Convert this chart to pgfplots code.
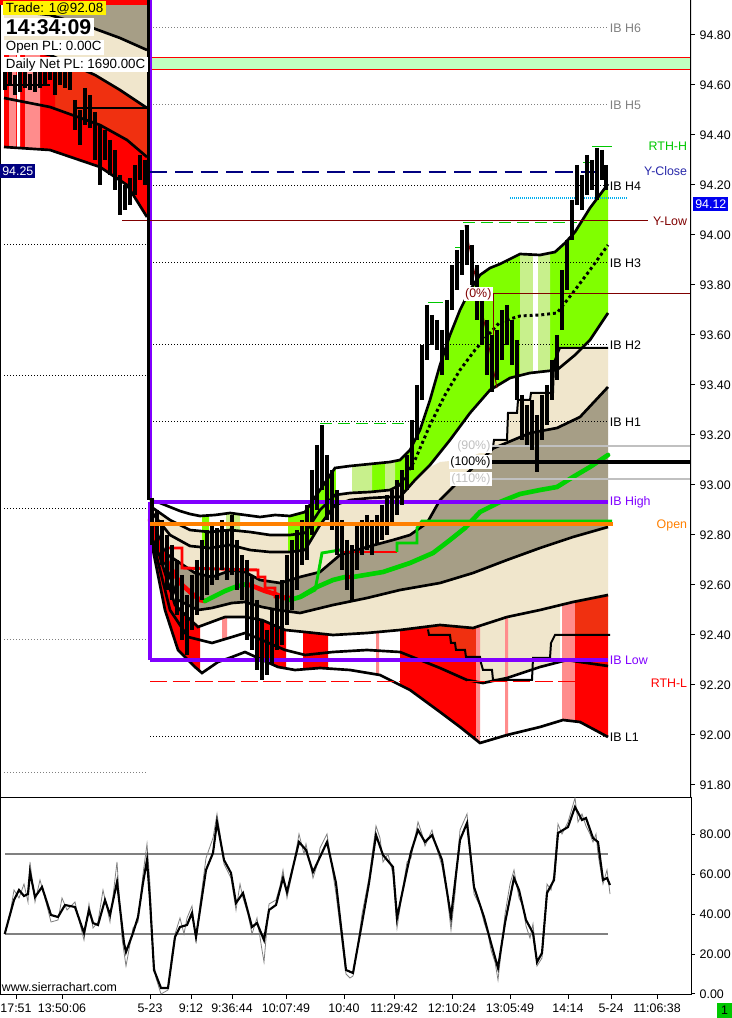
\documentclass[border=0pt]{standalone}
\usepackage{fontspec}
\setmainfont{Liberation Sans}
\usepackage{pgfplots}
\usepackage{pgfplotstable}
\pgfplotsset{compat=1.18}
\usepgfplotslibrary{fillbetween}

\definecolor{cTan}{RGB}{166,158,134}
\definecolor{cBeige}{RGB}{240,230,204}
\definecolor{cLime}{RGB}{128,255,0}
\definecolor{cLtLime}{RGB}{200,240,140}
\definecolor{cOrRed}{RGB}{240,48,16}
\definecolor{cRed}{RGB}{255,0,0}
\definecolor{cPink}{RGB}{255,140,140}
\definecolor{cPurple}{RGB}{128,0,255}
\definecolor{cOrange}{RGB}{255,128,0}
\definecolor{cMaGreen}{RGB}{0,210,0}
\definecolor{cNavy}{RGB}{0,0,128}
\definecolor{cDkRed}{RGB}{128,0,0}
\definecolor{cPale}{RGB}{192,255,192}
\definecolor{cRthG}{RGB}{0,200,0}
\definecolor{cBlue}{RGB}{0,0,240}
\definecolor{cYClose}{RGB}{40,40,170}
\definecolor{cGrayT}{RGB}{128,128,128}
\definecolor{cLtGray}{RGB}{192,192,192}

\newcommand{\lbl}{\fontsize{9.3}{11}\selectfont}
\tikzset{
  idot/.style={line width=0.75pt, dash pattern=on 0.75pt off 1.5pt},
  bandl/.style={black, line width=2pt},
  stepl/.style={black, line width=1.5pt},
}

% previous session bands
\pgfplotstableread{
x y
4 94.94
147 94.94
}\tLT
\pgfplotstableread{
x y
4 94.90
50 94.88
90 94.832
120 94.788
147 94.74
}\tLA
\pgfplotstableread{
x y
4 94.76
50 94.72
95 94.64
120 94.58
147 94.508
}\tLB
\pgfplotstableread{
x y
4 94.548
50 94.512
100 94.44
127 94.38
147 94.312
}\tLC
\pgfplotstableread{
x y
4 94.352
50 94.34
100 94.272
127 94.20
147 94.072
}\tLD

% current session bands
\pgfplotstableread{
x y
150 92.94
160 92.928
170 92.912
180 92.896
190 92.884
200 92.876
215 92.88
230 92.888
245 92.88
260 92.872
275 92.88
290 92.876
305 92.892
320 92.98
335 93.068
350 93.076
370 93.084
390 93.092
400 93.10
410 93.14
420 93.22
430 93.34
440 93.48
450 93.60
460 93.70
470 93.78
480 93.84
490 93.868
500 93.884
520 93.924
540 93.92
555 93.932
565 93.968
575 94.012
590 94.108
608 94.204
}\tTthree
\pgfplotstableread{
x y
150 92.916
170 92.86
190 92.82
210 92.812
230 92.82
250 92.812
270 92.80
290 92.80
305 92.808
320 92.90
335 92.96
350 92.968
370 92.972
390 92.98
400 93.00
415 93.10
430 93.24
445 93.36
460 93.46
475 93.54
490 93.608
500 93.652
520 93.676
540 93.68
557 93.688
575 93.78
590 93.86
608 93.96
}\tTtwo
\pgfplotstableread{
x y
150 92.90
170 92.80
190 92.756
210 92.748
230 92.76
250 92.74
270 92.732
290 92.732
305 92.74
320 92.84
335 92.92
350 92.94
370 92.948
390 92.952
400 92.952
415 93.02
430 93.08
450 93.18
470 93.288
490 93.38
510 93.428
530 93.448
557 93.46
575 93.52
590 93.58
608 93.688
}\tTone
\pgfplotstableread{
x y
150 92.90
170 92.80
190 92.756
210 92.748
230 92.76
250 92.74
270 92.732
290 92.732
305 92.74
320 92.84
335 92.92
350 92.94
370 92.948
390 92.952
400 92.952
415 93.02
425 93.06
440 93.092
460 93.10
475 93.12
493 93.152
494 93.18
507 93.18
508 93.288
517 93.288
518 93.34
530 93.34
531 93.368
553 93.368
554 93.492
560 93.548
608 93.548
}\tS
\pgfplotstableread{
x y
150 92.88
165 92.728
180 92.688
195 92.648
212 92.632
232 92.66
245 92.652
260 92.62
280 92.608
300 92.632
320 92.652
340 92.72
367 92.752
393 92.78
410 92.80
427 92.848
440 92.94
460 93.02
493 93.146
530 93.208
557 93.228
580 93.272
608 93.392
}\tMone
\pgfplotstableread{
x y
150 92.86
178 92.54
198 92.50
212 92.508
232 92.528
245 92.532
262 92.512
278 92.50
300 92.488
333 92.52
367 92.548
400 92.58
440 92.608
473 92.648
507 92.70
540 92.748
573 92.792
608 92.832
}\tMzero
\pgfplotstableread{
x y
150 92.84
175 92.52
198 92.432
225 92.472
245 92.472
262 92.46
285 92.42
305 92.412
333 92.40
367 92.408
400 92.42
440 92.44
473 92.428
507 92.472
540 92.50
573 92.532
608 92.56
}\tBone
\pgfplotstableread{
x y
150 92.82
170 92.50
188 92.392
212 92.368
232 92.392
245 92.408
262 92.38
285 92.34
305 92.32
333 92.332
367 92.34
400 92.332
440 92.268
467 92.22
483 92.208
507 92.228
540 92.272
567 92.30
580 92.292
608 92.276
}\tBtwo
\pgfplotstableread{
x y
150 92.80
165 92.50
178 92.34
195 92.272
202 92.248
218 92.292
232 92.312
245 92.332
258 92.308
278 92.272
295 92.26
320 92.268
350 92.26
380 92.24
410 92.18
440 92.092
460 92.032
480 91.968
507 92.00
540 92.032
563 92.06
580 92.052
608 91.992
}\tBthree
\pgfplotstableread{
x y
400 92.422
428 92.422
429 92.40
450 92.40
451 92.368
455 92.368
456 92.34
465 92.34
466 92.312
480 92.312
481 92.288
483 92.26
492 92.26
493 92.22
532 92.22
533 92.308
550 92.308
551 92.368
555 92.40
610 92.40
}\tStwo

\begin{document}
\begin{tikzpicture}

\begin{axis}[
  at={(0pt,165.75pt)}, anchor=south west,
  width=518.25pt, height=597.75pt, scale only axis,
  xmin=0, xmax=691, ymin=91.752, ymax=94.94,
  axis background/.style={fill=white},
  axis line style={draw=none},
  xtick=\empty,
  ytick={91.8,92,92.2,92.4,92.6,92.8,93,93.2,93.4,93.6,93.8,94,94.2,94.4,94.6,94.8},
  ytick pos=right, yticklabel pos=right,
  yticklabel style={font=\lbl, /pgf/number format/.cd, fixed, fixed zerofill, precision=2, assume math mode=true},
  tick align=outside, major tick length=3pt,
  tick style={black, line width=0.75pt},
  unbounded coords=jump,
]
% named paths
\addplot[draw=none, name path=LT] table {\tLT};
\addplot[draw=none, name path=LA] table {\tLA};
\addplot[draw=none, name path=LB] table {\tLB};
\addplot[draw=none, name path=LC] table {\tLC};
\addplot[draw=none, name path=LD] table {\tLD};
\addplot[draw=none, name path=T3] table {\tTthree};
\addplot[draw=none, name path=T2] table {\tTtwo};
\addplot[draw=none, name path=T1] table {\tTone};
\addplot[draw=none, name path=S] table {\tS};
\addplot[draw=none, name path=M1] table {\tMone};
\addplot[draw=none, name path=M0] table {\tMzero};
\addplot[draw=none, name path=B1] table {\tBone};
\addplot[draw=none, name path=B2] table {\tBtwo};
\addplot[draw=none, name path=B3] table {\tBthree};
\addplot[draw=none, name path=S2] table {\tStwo};

% previous session fills
\addplot[fill=cTan, draw=none] fill between[of=LT and LA];
\addplot[fill=cBeige, draw=none] fill between[of=LA and LB];
\addplot[fill=cOrRed, draw=none] fill between[of=LB and LC, soft clip={domain=55:147}];
\addplot[fill=cRed, draw=none] fill between[of=LB and LC, soft clip={domain=4:55}];
\addplot[fill=cRed, draw=none] fill between[of=LC and LD];
\addplot[fill=cPink, draw=none] fill between[of=LB and LD, soft clip={domain=9:16}];
\addplot[fill=white, draw=none] fill between[of=LB and LD, soft clip={domain=17:20}];
\addplot[fill=cPink, draw=none] fill between[of=LB and LD, soft clip={domain=25:40}];

% current session fills
\addplot[fill=cBeige, draw=none] fill between[of=T2 and T1, soft clip={domain=150:288}];
\addplot[fill=cLime, draw=none] fill between[of=T3 and T1, soft clip={domain=202:209}];
\addplot[fill=cLtLime, draw=none] fill between[of=T3 and T2, soft clip={domain=226:240}];
\addplot[fill=cLime, draw=none] fill between[of=T3 and T1, soft clip={domain=288:335}];
\addplot[fill=cLime, draw=none] fill between[of=T3 and T2, soft clip={domain=335:400}];
\addplot[fill=cBeige, draw=none] fill between[of=T2 and T1, soft clip={domain=335:400}];
\addplot[fill=white, draw=none] fill between[of=T3 and T2, soft clip={domain=336:352}];
\addplot[fill=cLtLime, draw=none] fill between[of=T3 and T2, soft clip={domain=352:372}];
\addplot[fill=cLtLime, draw=none] fill between[of=T3 and T2, soft clip={domain=385:395}];
\addplot[fill=cLime, draw=none] fill between[of=T3 and T1, soft clip={domain=400:608}];
\addplot[fill=cLtLime, draw=none] fill between[of=T3 and T1, soft clip={domain=520:533}];
\addplot[fill=white, draw=none] fill between[of=T3 and T1, soft clip={domain=533:538}];
\addplot[fill=cLtLime, draw=none] fill between[of=T3 and T1, soft clip={domain=538:550}];
\addplot[fill=cBeige, draw=none] fill between[of=S and M1];
\addplot[fill=cTan, draw=none] fill between[of=M1 and M0];
\addplot[fill=cBeige, draw=none] fill between[of=M0 and B1];
\addplot[fill=cBeige, draw=none] fill between[of=B1 and B2, soft clip={domain=480:560}];
\addplot[fill=cRed, draw=none] fill between[of=B1 and B3, soft clip={domain=150:200}];
\addplot[fill=cRed, draw=none] fill between[of=B1 and B3, soft clip={domain=256:286}];
\addplot[fill=cRed, draw=none] fill between[of=B1 and B3, soft clip={domain=303:328}];
\addplot[fill=cPink, draw=none] fill between[of=B1 and B2, soft clip={domain=222:227}];
\addplot[fill=cPink, draw=none] fill between[of=B1 and B3, soft clip={domain=376:379}];
\addplot[fill=cRed, draw=none] fill between[of=B1 and B3, soft clip={domain=400:428}];
\addplot[fill=cOrRed, draw=none] fill between[of=B1 and S2, soft clip={domain=428:476}];
\addplot[fill=cRed, draw=none] fill between[of=S2 and B3, soft clip={domain=428:476}];
\addplot[fill=cPink, draw=none] fill between[of=B1 and B3, soft clip={domain=476:480}];
\addplot[fill=cPink, draw=none] fill between[of=B1 and B3, soft clip={domain=505:508}];
\addplot[fill=cPink, draw=none] fill between[of=B1 and B3, soft clip={domain=562:575}];
\addplot[fill=cOrRed, draw=none] fill between[of=B1 and S2, soft clip={domain=575:608}];
\addplot[fill=cRed, draw=none] fill between[of=S2 and B3, soft clip={domain=575:608}];

% pale green zone with red edges
\addplot[fill=cPale, draw=none] coordinates {(150,94.66) (690,94.66) (690,94.708) (150,94.708)};
\addplot[cRed, line width=0.75pt] coordinates {(150,94.708) (690,94.708)};
\addplot[cRed, line width=0.75pt] coordinates {(150,94.66) (690,94.66)};

% dotted reference levels
\addplot[idot, cGrayT] coordinates {(150,94.828) (608,94.828)};
\addplot[idot, cGrayT] coordinates {(150,94.52) (608,94.52)};
\addplot[idot, black] coordinates {(150,94.196) (608,94.196)};
\addplot[idot, black] coordinates {(150,93.888) (608,93.888)};
\addplot[idot, black] coordinates {(150,93.56) (608,93.56)};
\addplot[idot, black] coordinates {(150,93.252) (608,93.252)};
\addplot[idot, black] coordinates {(150,91.992) (608,91.992)};
\addplot[idot, black] coordinates {(4,93.96) (148,93.96)};
\addplot[idot, black] coordinates {(4,93.436) (148,93.436)};
\addplot[idot, black] coordinates {(4,92.904) (148,92.904)};
\addplot[idot, cGrayT] coordinates {(4,92.38) (148,92.38)};
\addplot[idot, cGrayT] coordinates {(4,91.848) (148,91.848)};

% band curves
\addplot[bandl] table {\tLA};
\addplot[bandl] table {\tLB};
\addplot[bandl] table {\tLC};
\addplot[bandl] table {\tLD};
\addplot[stepl] coordinates {(75,94.508) (147,94.508)};
\addplot[stepl] coordinates {(4,94.60) (50,94.60)};
\addplot[bandl] table {\tTthree};
\addplot[bandl] coordinates {(150,92.916) (170,92.86) (190,92.82) (210,92.812) (230,92.82) (250,92.812) (270,92.80) (290,92.80) (305,92.808) (320,92.90) (335,92.96) (350,92.968) (370,92.972) (390,92.98) (400,93.00)};
\addplot[black, line width=2.2pt, dash pattern=on 2.2pt off 2.2pt] coordinates {(400,93.00) (415,93.10) (430,93.24) (445,93.36) (460,93.46) (475,93.54) (490,93.608) (500,93.652) (520,93.676) (540,93.68) (557,93.688) (575,93.78) (590,93.86) (608,93.96)};
\addplot[bandl] table {\tTone};
\addplot[bandl] table {\tMone};
\addplot[bandl] table {\tMzero};
\addplot[bandl] table {\tBone};
\addplot[bandl] table {\tBtwo};
\addplot[bandl] table {\tBthree};
\addplot[stepl] coordinates {(493,93.152) (494,93.18) (507,93.18) (508,93.288) (517,93.288) (518,93.34) (530,93.34) (531,93.368) (553,93.368) (554,93.492) (560,93.548) (608,93.548)};
\addplot[stepl] coordinates {(428,92.422) (429,92.40) (450,92.40) (451,92.368) (455,92.368) (456,92.34) (465,92.34) (466,92.312) (480,92.312) (481,92.288) (483,92.26) (492,92.26) (493,92.22) (532,92.22) (533,92.308) (550,92.308) (551,92.368) (555,92.40) (610,92.40)};

% moving average and step lines
\addplot[cRed, line width=2.2pt] coordinates {(165,92.748) (182,92.748) (182,92.668) (258,92.66) (258,92.632) (265,92.632) (265,92.588) (275,92.588) (275,92.552) (290,92.552)};
\addplot[cMaGreen, line width=2.2pt] coordinates {(300,92.548) (315,92.58) (318,92.64) (322,92.728) (340,92.74)};
\addplot[cRed, line width=2.2pt] coordinates {(340,92.732) (397,92.732)};
\addplot[cMaGreen, line width=2.2pt] coordinates {(397,92.732) (397,92.768) (417,92.768) (417,92.828) (422,92.856) (612,92.856)};
\addplot[cRed, line width=3.5pt, line cap=round] coordinates {(150,92.86) (155,92.80) (160,92.748) (165,92.708) (172,92.66) (180,92.608) (190,92.572) (200,92.54) (205,92.536)};
\addplot[cMaGreen, line width=3.5pt, line cap=round] coordinates {(205,92.536) (215,92.556) (225,92.576) (235,92.592) (247,92.604)};
\addplot[cRed, line width=3.5pt, line cap=round] coordinates {(247,92.604) (255,92.592) (265,92.576) (275,92.564) (290,92.54)};
\addplot[cMaGreen, line width=3.5pt, line cap=round] coordinates {(290,92.54) (300,92.552) (317,92.592) (333,92.62) (345,92.632)};
\addplot[cRed, line width=3.5pt] coordinates {(345,92.632) (353,92.632)};
\addplot[cMaGreen, line width=3.5pt, line cap=round] coordinates {(353,92.632) (383,92.652) (410,92.688) (433,92.728) (450,92.78) (465,92.828) (480,92.892) (500,92.932) (520,92.964) (540,92.98) (557,92.992) (573,93.032) (590,93.072) (608,93.12)};

% initial balance box
\addplot[cPurple, line width=1.5pt] coordinates {(151,94.94) (151,92.30)};
\addplot[cPurple, line width=3.5pt] coordinates {(150,92.932) (150,92.30)};
\addplot[cPurple, line width=3.5pt] coordinates {(150,92.932) (608,92.932)};
\addplot[cPurple, line width=3.5pt] coordinates {(150,92.30) (608,92.30)};

% other levels
\addplot[cNavy, line width=0.9pt, dash pattern=on 13pt off 6pt] coordinates {(150,94.252) (608,94.252)};
\addplot[cDkRed, line width=0.75pt] coordinates {(122,94.056) (648,94.056)};
\addplot[cDkRed, line width=0.75pt] coordinates {(493,93.764) (690,93.764)};
\addplot[cDkRed, line width=0.75pt] coordinates {(493,93.764) (493,93.40)};
\addplot[cDkRed, line width=0.75pt] coordinates {(465,94.04) (480,93.74) (497,93.388)};
\addplot[cLtGray, line width=0.9pt] coordinates {(490,93.156) (690,93.156)};
\addplot[black, line width=3pt] coordinates {(490,93.092) (690,93.092)};
\addplot[cLtGray, line width=0.9pt] coordinates {(490,93.024) (690,93.024)};
\addplot[cyan, line width=1.5pt, dash pattern=on 1pt off 0.5pt] coordinates {(510,94.148) (628,94.148)};
\addplot[cRthG, line width=0.75pt, dash pattern=on 9pt off 4.5pt] coordinates {(463,94.048) (577,94.048)};
\addplot[cRthG, line width=0.75pt, dash pattern=on 9pt off 4.5pt] coordinates {(320,93.244) (405,93.244)};
\addplot[cRthG, line width=0.75pt] coordinates {(428,93.728) (443,93.728)};
\addplot[cRthG, line width=0.75pt] coordinates {(455,93.948) (463,93.948)};
\addplot[cRthG, line width=0.75pt] coordinates {(583,94.288) (592,94.288)};
\addplot[cRthG, line width=0.75pt] coordinates {(592,94.352) (612,94.352)};
\addplot[cRed, line width=0.75pt, dash pattern=on 13pt off 4pt] coordinates {(150,92.212) (608,92.212)};

% price bars
\addplot[black, line width=2.4pt] coordinates {
(5,94.68) (5,94.58) (5,nan) (10,94.66) (10,94.60) (10,nan) (15,94.64) (15,94.56) (15,nan)
(20,94.652) (20,94.572) (20,nan) (25,94.66) (25,94.588) (25,nan) (30,94.644) (30,94.58) (30,nan)
(35,94.66) (35,94.572) (35,nan) (40,94.668) (40,94.588) (40,nan) (45,94.676) (45,94.596) (45,nan)
(50,94.68) (50,94.62) (50,nan) (55,94.692) (55,94.56) (55,nan) (60,94.68) (60,94.60) (60,nan)
(65,94.668) (65,94.588) (65,nan) (70,94.66) (70,94.58) (70,nan) (75,94.54) (75,94.42) (75,nan)
(80,94.50) (80,94.36) (80,nan) (85,94.588) (85,94.44) (85,nan) (90,94.56) (90,94.428) (90,nan)
(95,94.492) (95,94.30) (95,nan) (100,94.44) (100,94.20) (100,nan) (105,94.42) (105,94.30) (105,nan)
(110,94.38) (110,94.24) (110,nan) (115,94.34) (115,94.18) (115,nan) (120,94.24) (120,94.08) (120,nan)
(125,94.20) (125,94.10) (125,nan) (130,94.228) (130,94.12) (130,nan) (135,94.28) (135,94.16) (135,nan)
(140,94.32) (140,94.22) (140,nan) (145,94.30) (145,94.20) (145,nan)
(152,92.948) (152,92.76) (152,nan) (157,92.90) (157,92.72) (157,nan) (162,92.86) (162,92.68) (162,nan)
(167,92.80) (167,92.58) (167,nan) (172,92.76) (172,92.54) (172,nan) (177,92.70) (177,92.48) (177,nan)
(182,92.64) (182,92.38) (182,nan) (187,92.56) (187,92.32) (187,nan) (192,92.64) (192,92.42) (192,nan)
(197,92.70) (197,92.48) (197,nan) (202,92.78) (202,92.54) (202,nan) (207,92.82) (207,92.56) (207,nan)
(212,92.84) (212,92.60) (212,nan) (217,92.828) (217,92.62) (217,nan) (222,92.86) (222,92.66) (222,nan)
(227,92.82) (227,92.62) (227,nan) (232,92.88) (232,92.64) (232,nan) (237,92.78) (237,92.58) (237,nan)
(242,92.72) (242,92.54) (242,nan) (247,92.70) (247,92.38) (247,nan) (252,92.64) (252,92.34) (252,nan)
(257,92.54) (257,92.26) (257,nan) (262,92.46) (262,92.22) (262,nan) (267,92.42) (267,92.24) (267,nan)
(272,92.50) (272,92.28) (272,nan) (277,92.56) (277,92.34) (277,nan) (282,92.62) (282,92.36) (282,nan)
(287,92.72) (287,92.44) (287,nan) (292,92.78) (292,92.50) (292,nan) (297,92.82) (297,92.58) (297,nan)
(302,92.86) (302,92.68) (302,nan) (307,92.92) (307,92.70) (307,nan) (312,93.06) (312,92.80) (312,nan)
(317,93.16) (317,92.90) (317,nan) (322,93.24) (322,92.98) (322,nan) (327,93.12) (327,92.86) (327,nan)
(332,93.06) (332,92.82) (332,nan) (337,92.98) (337,92.72) (337,nan) (342,92.86) (342,92.66) (342,nan)
(347,92.78) (347,92.58) (347,nan) (352,92.76) (352,92.54) (352,nan) (357,92.84) (357,92.66) (357,nan)
(362,92.86) (362,92.72) (362,nan) (367,92.88) (367,92.74) (367,nan) (372,92.86) (372,92.72) (372,nan)
(377,92.88) (377,92.76) (377,nan) (382,92.92) (382,92.78) (382,nan) (387,92.96) (387,92.80) (387,nan)
(392,92.98) (392,92.84) (392,nan) (397,93.02) (397,92.88) (397,nan) (402,93.06) (402,92.92) (402,nan)
(407,93.12) (407,92.98) (407,nan) (412,93.26) (412,93.06) (412,nan) (417,93.40) (417,93.18) (417,nan)
(422,93.56) (422,93.34) (422,nan) (427,93.72) (427,93.50) (427,nan) (432,93.68) (432,93.56) (432,nan)
(437,93.66) (437,93.54) (437,nan) (442,93.62) (442,93.44) (442,nan) (447,93.74) (447,93.50) (447,nan)
(452,93.88) (452,93.70) (452,nan) (457,93.94) (457,93.78) (457,nan) (462,94.02) (462,93.84) (462,nan)
(467,94.04) (467,93.88) (467,nan) (472,93.96) (472,93.80) (472,nan) (477,93.88) (477,93.66) (477,nan)
(482,93.78) (482,93.56) (482,nan) (487,93.66) (487,93.44) (487,nan) (492,93.60) (492,93.372) (492,nan)
(497,93.62) (497,93.42) (497,nan) (502,93.70) (502,93.50) (502,nan) (507,93.72) (507,93.56) (507,nan)
(512,93.66) (512,93.48) (512,nan) (517,93.58) (517,93.34) (517,nan) (522,93.36) (522,93.18) (522,nan)
(527,93.32) (527,93.16) (527,nan) (532,93.34) (532,93.14) (532,nan) (537,93.28) (537,93.052) (537,nan)
(542,93.36) (542,93.18) (542,nan) (547,93.40) (547,93.24) (547,nan) (552,93.50) (552,93.34) (552,nan)
(557,93.60) (557,93.42) (557,nan) (562,93.86) (562,93.62) (562,nan) (567,93.98) (567,93.78) (567,nan)
(572,94.14) (572,93.98) (572,nan) (577,94.28) (577,94.12) (577,nan) (582,94.24) (582,94.10) (582,nan)
(587,94.32) (587,94.16) (587,nan) (592,94.30) (592,94.18) (592,nan) (597,94.348) (597,94.14) (597,nan)
(602,94.34) (602,94.22) (602,nan) (606,94.28) (606,94.18)
};
\addplot[black, line width=2.6pt] coordinates {(148.5,94.94) (148.5,92.94)};

% open
\addplot[cOrange, line width=3pt] coordinates {(150,92.844) (613,92.844)};

% borders
\addplot[black, line width=1.5pt] coordinates {(0,91.752) (0,94.94)};
\addplot[black, line width=1.5pt] coordinates {(691,91.752) (691,94.94)};

% labels
\node[anchor=west, text=cGrayT, font=\lbl, inner sep=0.5pt] at (axis cs:609,94.828) {IB H6};
\node[anchor=west, text=cGrayT, font=\lbl, inner sep=0.5pt] at (axis cs:609,94.52) {IB H5};
\node[anchor=east, text=cRthG, font=\lbl, inner sep=0.5pt] at (axis cs:688,94.356) {RTH-H};
\node[anchor=east, text=cYClose, font=\lbl, inner sep=0.5pt] at (axis cs:688,94.256) {Y-Close};
\node[anchor=west, text=black, font=\lbl, inner sep=0.5pt] at (axis cs:609,94.196) {IB H4};
\node[anchor=east, text=cDkRed, font=\lbl, inner sep=0.5pt] at (axis cs:688,94.056) {Y-Low};
\node[anchor=west, text=black, font=\lbl, inner sep=0.5pt] at (axis cs:609,93.888) {IB H3};
\node[anchor=west, text=black, font=\lbl, inner sep=0.5pt] at (axis cs:609,93.56) {IB H2};
\node[anchor=west, text=black, font=\lbl, inner sep=0.5pt] at (axis cs:609,93.252) {IB H1};
\node[anchor=west, text=cPurple, font=\lbl, inner sep=0.5pt] at (axis cs:609,92.932) {IB High};
\node[anchor=east, text=cOrange, font=\lbl, inner sep=0.5pt] at (axis cs:688,92.84) {Open};
\node[anchor=west, text=cPurple, font=\lbl, inner sep=0.5pt] at (axis cs:609,92.30) {IB Low};
\node[anchor=east, text=cRed, font=\lbl, inner sep=0.5pt] at (axis cs:688,92.208) {RTH-L};
\node[anchor=west, text=black, font=\lbl, inner sep=0.5pt] at (axis cs:609,91.992) {IB L1};
\node[anchor=east, text=cDkRed, fill=white, font=\lbl, inner sep=1pt] at (axis cs:493,93.764) {(0\%)};
\node[anchor=east, text=cLtGray, fill=white, font=\lbl, inner sep=1pt] at (axis cs:492,93.156) {(90\%)};
\node[anchor=east, text=black, fill=white, font=\lbl, inner sep=1pt] at (axis cs:492,93.092) {(100\%)};
\node[anchor=east, text=cLtGray, fill=white, font=\lbl, inner sep=1pt] at (axis cs:492,93.024) {(110\%)};
\node[anchor=west, text=white, fill=cNavy, font=\lbl, inner xsep=1.5pt, inner ysep=2pt] at (axis cs:0,94.256) {94.25};
\end{axis}

\begin{axis}[
  at={(0pt,17.25pt)}, anchor=south west,
  width=518.25pt, height=148.5pt, scale only axis,
  xmin=0, xmax=691, ymin=-0.5, ymax=98.5,
  axis background/.style={fill=white},
  xtick={16,62,150,191,232,286,344,394,452,510,568,611,657},
  xticklabels={17:51,13:50:06,5-23,9:12,9:36:44,10:07:49,10:40,11:29:42,12:10:24,13:05:49,14:14,5-24,11:06:38},
  ytick={0,20,40,60,80},
  xtick pos=left, ytick pos=right, yticklabel pos=right,
  tick align=outside, major tick length=3pt,
  tick style={black, line width=0.75pt},
  axis line style={line width=0.75pt},
  ticklabel style={font=\lbl},
  yticklabel style={/pgf/number format/.cd, fixed, fixed zerofill, precision=2, assume math mode=true},
]
\addplot[cGrayT, line width=0.9pt] coordinates {(5,70) (608,70)};
\addplot[cGrayT, line width=0.9pt] coordinates {(5,30) (608,30)};
\addplot[cGrayT, line width=0.6pt] coordinates {
(4.7,30) (10,40) (14,52) (19,48) (24,55) (28,46) (30,66) (35,46) (40,57) (44,50) (51,36) (58,37)
(62,48) (67,42) (75,46) (80,35) (84,27) (89,45) (93,33) (98,36) (103,52) (110,36) (117,66) (122,28)
(126,14) (133,33) (138,36) (143,60) (147,75) (150,55) (153,20) (156,8) (161,0) (168,2) (172,20)
(175,30) (180,38) (184,30) (187,38) (192,44) (196,27) (200,45) (206,68) (213,78) (217,90) (220,80)
(224,65) (231,58) (236,42) (240,55) (243,48) (248,40) (252,30) (257,38) (262,22) (264,16) (269,45)
(276,47) (280,54) (283,62) (287,48) (292,60) (299,80) (304,70) (306,75) (313,58) (318,66) (320,73)
(327,80) (336,50) (341,30) (346,10) (350,8) (353,9) (358,25) (362,40) (369,58) (376,84) (380,78)
(383,66) (388,70) (393,60) (397,33) (402,50) (407,66) (411,68) (418,86) (422,80) (425,74) (432,82)
(436,74) (442,64) (447,50) (451,32) (455,50) (460,82) (467,90) (471,70) (474,50) (480,44) (484,36)
(488,30) (491,22) (495,16) (498,7) (502,25) (505,40) (510,55) (514,62) (519,48) (523,44) (526,34)
(530,28) (533,35) (537,14) (542,18) (545,38) (547,55) (551,52) (554,60) (558,85) (562,80) (568,86)
(575,98) (578,86) (582,90) (586,84) (590,80) (593,76) (596,80) (598,70) (603,55) (607,62) (610,50)
};
\addplot[black, line width=1.6pt] coordinates {
(4.7,30) (14,47) (19,52) (24,49) (28,50) (30,61) (35,48.5) (42,53.5) (51,39.5) (58,38.5) (65,44.5)
(75,43.5) (84,30.5) (89,42) (93,35.5) (98,34.5) (105,47) (110,39.5) (117,56) (124,25.5) (126,21)
(133,30.5) (138,38.5) (143,55.5) (147,67) (150,47) (154,12) (161,3) (168,3) (175,28.5) (180,33.5)
(187,34.5) (192,40.5) (196,28.5) (206,62) (213,70.5) (217,86) (224,67) (231,60.5) (236,45.5)
(243,50.5) (252,33.5) (257,35.5) (264,27) (269,42) (276,44.5) (283,58) (287,51) (299,76) (306,72)
(313,61) (320,68.5) (327,76) (336,55.5) (346,12) (353,10.5) (362,35.5) (369,55.5) (376,79.5)
(383,69.5) (393,63.5) (397,38) (407,62) (411,71) (418,82) (425,76) (432,79.5) (442,67) (451,38.5)
(460,77) (467,85.5) (474,53.5) (484,38.5) (491,25.5) (498,13) (505,35.5) (514,58) (519,52) (526,37)
(533,30.5) (537,16) (542,20.5) (547,50.5) (554,57) (558,80.5) (568,83.5) (575,93.5) (582,87)
(586,88) (593,78) (598,76) (603,57) (607,58) (610,54.5)
};
\node[anchor=south west, font=\lbl, inner sep=0.5pt] at (axis cs:1,0.5) {www.sierrachart.com};
\end{axis}

\begin{scope}[x=0.75pt, y=0.75pt]
\fill[cRed] (0,1013) rectangle (147,1018);
\node[fill=yellow, anchor=north west, inner xsep=2pt, inner ysep=1pt, font=\fontsize{10}{12}\selectfont] at (3,1017) {Trade: 1@92.08};
\node[fill=white, anchor=north west, inner xsep=2pt, inner ysep=1pt, font=\bfseries\fontsize{16}{18}\selectfont] at (3,1000) {14:34:09};
\node[fill=white, anchor=north west, inner xsep=2pt, inner ysep=1pt, font=\fontsize{10}{12}\selectfont] at (3,978) {Open PL: 0.00C};
\node[fill=white, anchor=north west, inner xsep=2pt, inner ysep=1pt, font=\fontsize{10}{12}\selectfont] at (3,961) {Daily Net PL: 1690.00C};
\node[fill=cBlue, text=white, anchor=west, inner xsep=1.5pt, inner ysep=2pt, font=\lbl] at (693,814) {94.12};
\fill[cRthG] (717,0) rectangle (732,15);
\node[font=\lbl, inner sep=0pt] at (724.5,7.5) {1};
\end{scope}
\pgfresetboundingbox
\useasboundingbox (0,0) rectangle (549pt,763.5pt);
\end{tikzpicture}
\end{document}
